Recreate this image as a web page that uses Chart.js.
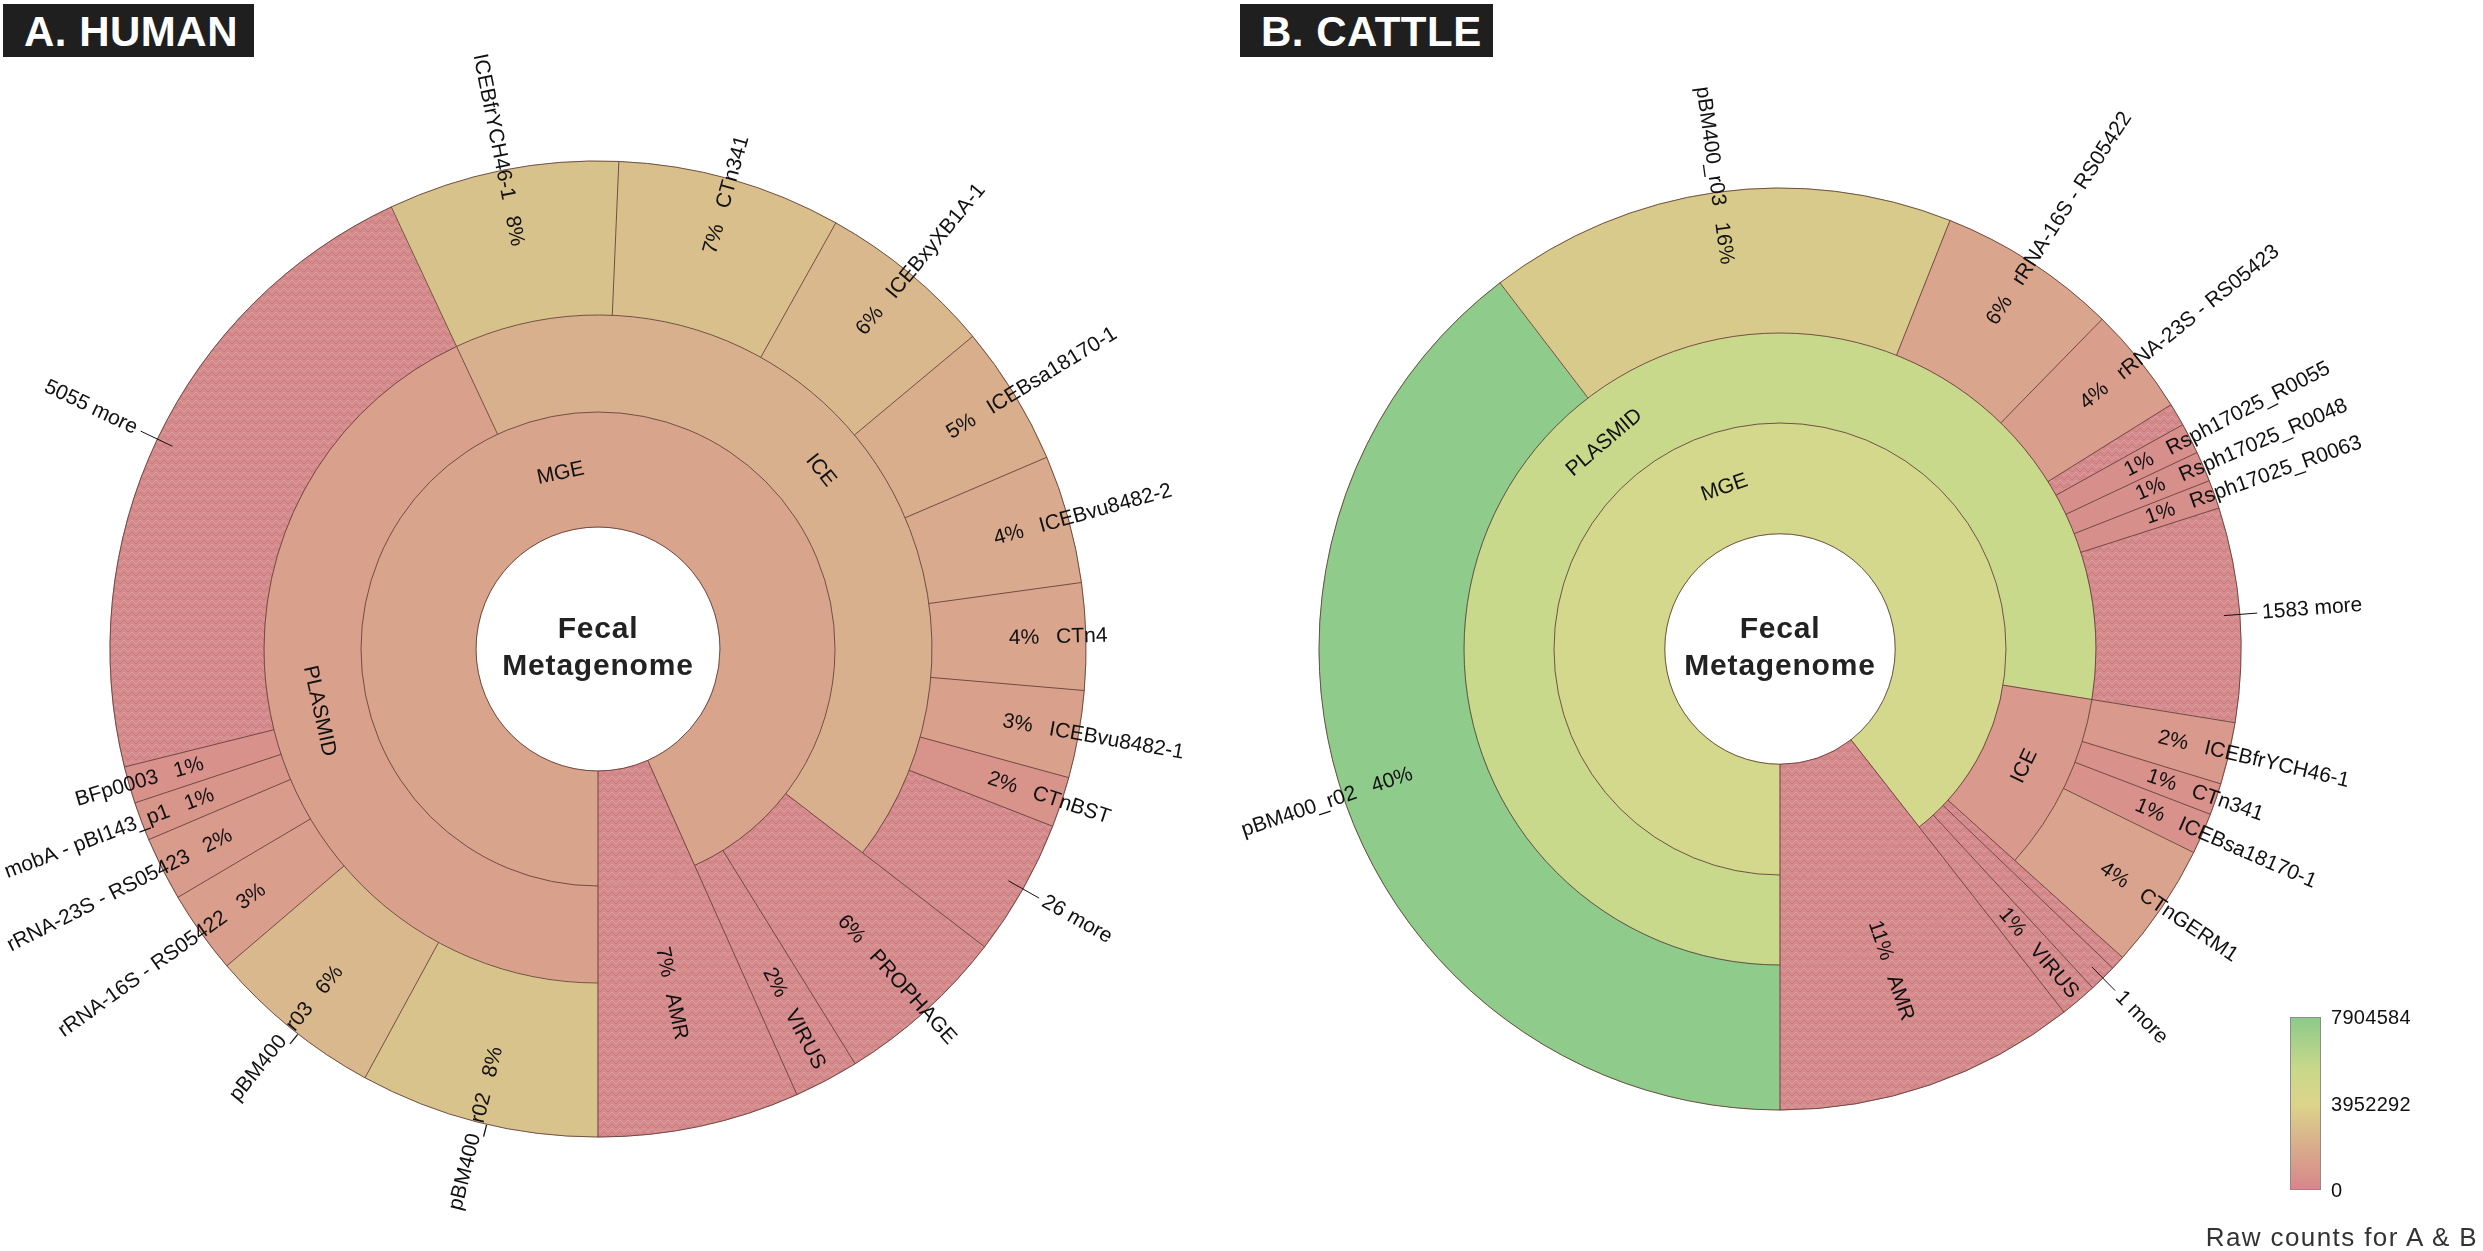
<!DOCTYPE html>
<html>
<head>
<meta charset="utf-8">
<script src="https://cdn.jsdelivr.net/npm/chart.js@4.4.1/dist/chart.umd.min.js"></script>
<style>
    html, body { margin: 0; padding: 0; background: #fff; overflow: hidden; }
    #page { position: relative; width: 2483px; height: 1251px; font-family: "Liberation Sans", Arial, sans-serif; }
    canvas { position: absolute; left: 0; top: 0; }
    .tag { position: absolute; top: 4px; height: 53px; background: #1f1f1f; color: #fff; font-weight: bold; font-size: 42px; letter-spacing: 0.5px; line-height: 55px; padding-left: 21px; box-sizing: border-box; }
    #scale { position: absolute; left: 2290px; top: 1017px; width: 31px; height: 173px; box-sizing: border-box; border: 1px solid #8c8c8c; background: linear-gradient(to bottom, #8dca8a 0%, #c9d88a 30%, #dcd48b 50%, #d9ad8c 75%, #d7868a 100%); }
    .tick { position: absolute; left: 2331px; font-size: 20px; letter-spacing: 0.3px; color: #111; line-height: 20px; }
    #scaleTitle { position: absolute; right: 5px; top: 1222px; font-size: 26px; letter-spacing: 1.4px; line-height: 30px; color: #333; white-space: nowrap; }
</style>
</head>
<body>
<div id="page">
    <canvas id="humanChart" width="2483" height="1251"></canvas>
    <canvas id="cattleChart" width="2483" height="1251"></canvas>
    <div class="tag" style="left:3px; width:251px;">A. HUMAN</div>
    <div class="tag" style="left:1240px; width:253px;">B. CATTLE</div>
    <div id="scale"></div>
    <div id="scaleTitle">Raw counts for A &amp; B</div>
</div>
<script>
// share of all reads in each wedge (%)
const humanPlasmidNames = ['pBM400_r02', 'pBM400_r03', 'rRNA-16S - RS05422', 'rRNA-23S - RS05423', 'mobA - pBI143_p1', 'BFp0003', '5055 more'];
const humanPlasmidValues = [7.92, 5.83, 2.75, 2.11, 1.28, 1.22, 21.92];
const humanIceNames = ['ICEBfrYCH46-1', 'CTn341', 'ICEBxyXB1A-1', 'ICEBsa18170-1', 'ICEBvu8482-2', 'CTn4', 'ICEBvu8482-1', 'CTnBST', '26 more'];
const humanIceValues = [7.64, 7.42, 5.83, 4.64, 4.25, 3.53, 2.89, 1.67, 4.53];
const humanOtherNames = ['PROPHAGE', 'VIRUS'];
const humanOtherValues = [5.72, 2.15];
const humanAmrValue = 6.68;

const cattlePlasmidNames = ['pBM400_r02', 'pBM400_r03', 'rRNA-16S - RS05422', 'rRNA-23S - RS05423', '', 'Rsph17025_R0055', 'Rsph17025_R0048', 'Rsph17025_R0063', '1583 more'];
const cattlePlasmidValues = [39.6, 16.4, 6.3, 3.8, 0.8, 1.08, 1.06, 1.0, 7.5];
const cattleIceNames = ['ICEBfrYCH46-1', 'CTn341', 'ICEBsa18170-1', 'CTnGERM1'];
const cattleIceValues = [2.17, 1.11, 1.44, 4.39];
const cattleOtherNames = ['', '1 more', 'VIRUS'];
const cattleOtherValues = [0.5, 0.97, 1.3];
const cattleAmrValue = 10.56;

const scaleTicks = ['7904584', '3952292', '0'];

// colours
const HATCH = 'hatch';
const humanPlasmidColors = ['#d9c38c', '#d9b88d', '#d99f8c', '#d99b8c', '#d8968b', '#d8928b', HATCH];
const humanIceColors = ['#d8c28c', '#d9bf8c', '#d9b88d', '#d9ae8d', '#d9aa8d', '#d9a68d', '#d9a08c', '#d8938b', HATCH];
const humanOtherColors = [HATCH, HATCH];
const humanGroupColors = { MGE: '#d9a48c', PLASMID: '#d9a18c', ICE: '#d9b08e', AMR: HATCH };

const cattlePlasmidColors = ['#8fcb8a', '#d8ca8b', '#d9a58d', '#d99e8c', HATCH, '#d78f8b', '#d78f8b', '#d78f8b', HATCH];
const cattleIceColors = ['#d9998c', '#d8918b', '#d8928b', '#d9a38d'];
const cattleOtherColors = [HATCH, HATCH, HATCH];
const cattleGroupColors = { MGE: '#d3d88d', PLASMID: '#c9d98c', ICE: '#d9998c', AMR: HATCH };

const EDGE = 'rgba(95, 60, 55, 0.85)';
const HATCH_BASE = '#d58a8c';
const LABEL_FONT = '21px "Liberation Sans", Arial, sans-serif';

function makeHatch() {
    const c = document.createElement('canvas');
    c.width = 8;
    c.height = 8;
    const g = c.getContext('2d');
    g.fillStyle = HATCH_BASE;
    g.fillRect(0, 0, 8, 8);
    g.lineWidth = 1;
    g.strokeStyle = 'rgba(255, 255, 255, 0.16)';
    g.beginPath();
    g.moveTo(0, 4); g.lineTo(4, 0); g.lineTo(8, 4);
    g.stroke();
    g.strokeStyle = 'rgba(150, 70, 75, 0.16)';
    g.beginPath();
    g.moveTo(0, 8); g.lineTo(4, 4); g.lineTo(8, 8);
    g.stroke();
    return g.createPattern(c, 'repeat');
}
const hatchPattern = makeHatch();

function fillOf(color) {
    return color === HATCH ? hatchPattern : color;
}

function leaves(names, values, colors) {
    return names.map((name, i) => ({ name, value: values[i], color: colors[i] }));
}

function group(name, color, children) {
    return { name, color, children, value: children.reduce((s, c) => s + c.value, 0) };
}

// one list of pieces per ring, innermost first; leaves are carried outwards
function ringsOf(roots, depth) {
    const rings = [];
    for (let d = 0; d < depth; d++) rings.push([]);
    function walk(node, d) {
        rings[d].push({ node, first: true, cont: !node.children && d < depth - 1 });
        if (node.children) {
            node.children.forEach(c => walk(c, d + 1));
        } else {
            for (let k = d + 1; k < depth; k++) {
                rings[k].push({ node, first: false, cont: k < depth - 1 });
            }
        }
    }
    roots.forEach(r => walk(r, 0));
    return rings;
}

function normAngle(a) {
    return Math.atan2(Math.sin(a), Math.cos(a));
}

function radialText(ctx, x, y, ang, r0, parts, gap) {
    const a = normAngle(ang);
    const right = a > -Math.PI / 2 - 1e-6 && a <= Math.PI / 2 + 1e-6;
    ctx.save();
    ctx.translate(x, y);
    ctx.rotate(right ? a : a + Math.PI);
    ctx.textAlign = right ? 'left' : 'right';
    let r = r0;
    parts.forEach(t => {
        ctx.fillText(t, right ? r : -r, 0);
        r += ctx.measureText(t).width + gap;
    });
    ctx.restore();
}

function makeKronaPlugin(rings, total) {
    return {
        id: 'krona',
        afterDatasetsDraw(chart) {
            const ctx = chart.ctx;
            const n = rings.length;
            const outerMeta = chart.getDatasetMeta(0).data[0];
            const R = outerMeta.outerRadius;
            const cx = outerMeta.x;
            const cy = outerMeta.y;

            ctx.save();
            ctx.strokeStyle = EDGE;
            ctx.lineWidth = 1;
            rings.forEach((pieces, d) => {
                const meta = chart.getDatasetMeta(n - 1 - d);
                meta.data.forEach((arc, i) => {
                    const p = arc.getProps(['startAngle', 'endAngle', 'innerRadius', 'outerRadius'], true);
                    ctx.beginPath();
                    ctx.moveTo(cx + p.innerRadius * Math.cos(p.startAngle), cy + p.innerRadius * Math.sin(p.startAngle));
                    ctx.lineTo(cx + p.outerRadius * Math.cos(p.startAngle), cy + p.outerRadius * Math.sin(p.startAngle));
                    ctx.stroke();
                    if (!pieces[i].cont) {
                        ctx.beginPath();
                        ctx.arc(cx, cy, p.outerRadius, p.startAngle, p.endAngle);
                        ctx.stroke();
                    }
                    if (d === 0) {
                        ctx.beginPath();
                        ctx.arc(cx, cy, p.innerRadius, p.startAngle, p.endAngle);
                        ctx.stroke();
                    }
                });
            });

            ctx.fillStyle = '#111';
            ctx.font = LABEL_FONT;
            ctx.textBaseline = 'middle';
            rings.forEach((pieces, d) => {
                const meta = chart.getDatasetMeta(n - 1 - d);
                meta.data.forEach((arc, i) => {
                    const piece = pieces[i];
                    if (!piece.first || !piece.node.name) return;
                    const p = arc.getProps(['startAngle', 'endAngle', 'innerRadius', 'outerRadius'], true);
                    const mid = (p.startAngle + p.endAngle) / 2;
                    const node = piece.node;
                    if (node.children) {
                        const r = (p.innerRadius + p.outerRadius) / 2;
                        let t = normAngle(mid + Math.PI / 2);
                        if (t > Math.PI / 2) t -= Math.PI;
                        if (t <= -Math.PI / 2) t += Math.PI;
                        ctx.save();
                        ctx.translate(cx + r * Math.cos(mid), cy + r * Math.sin(mid));
                        ctx.rotate(t);
                        ctx.textAlign = 'center';
                        ctx.fillText(node.name, 0, 0);
                        ctx.restore();
                    } else if (/more$/.test(node.name)) {
                        ctx.save();
                        ctx.strokeStyle = '#111';
                        ctx.beginPath();
                        ctx.moveTo(cx + 0.966 * R * Math.cos(mid), cy + 0.966 * R * Math.sin(mid));
                        ctx.lineTo(cx + 1.038 * R * Math.cos(mid), cy + 1.038 * R * Math.sin(mid));
                        ctx.stroke();
                        ctx.restore();
                        radialText(ctx, cx, cy, mid, 1.038 * R + 5, [node.name], 0);
                    } else {
                        const pct = Math.round(node.value / total * 100) + '%';
                        const r0 = (p.innerRadius + R) / 2;
                        radialText(ctx, cx, cy, mid, r0, [pct, node.name], 17);
                    }
                });
            });

            ctx.fillStyle = '#222';
            ctx.font = 'bold 30px "Liberation Sans", Arial, sans-serif';
            if ('letterSpacing' in ctx) ctx.letterSpacing = '0.8px';
            ctx.textAlign = 'center';
            ctx.textBaseline = 'alphabetic';
            ctx.fillText('Fecal', cx, cy - 11);
            ctx.fillText('Metagenome', cx, cy + 26);
            ctx.restore();
        }
    };
}

function drawKrona(canvasId, roots, weights, radius, padding) {
    const rings = ringsOf(roots, weights.length);
    const total = roots.reduce((s, r) => s + r.value, 0);
    const datasets = rings.map((pieces, d) => ({
        data: pieces.map(p => p.node.value),
        backgroundColor: pieces.map(p => fillOf(p.node.color)),
        borderColor: pieces.map(p => p.node.color === HATCH ? HATCH_BASE : p.node.color),
        borderWidth: 1,
        weight: weights[d]
    })).reverse();

    return new Chart(document.getElementById(canvasId), {
        type: 'doughnut',
        data: { labels: rings[rings.length - 1].map(p => p.node.name), datasets },
        options: {
            responsive: false,
            devicePixelRatio: 1,
            animation: false,
            events: [],
            rotation: 180,
            cutout: '25%',
            radius,
            layout: { padding },
            plugins: { legend: { display: false }, tooltip: { enabled: false } }
        },
        plugins: [makeKronaPlugin(rings, total)]
    });
}

const humanRoots = [
    group('MGE', humanGroupColors.MGE, [
        group('PLASMID', humanGroupColors.PLASMID, leaves(humanPlasmidNames, humanPlasmidValues, humanPlasmidColors)),
        group('ICE', humanGroupColors.ICE, leaves(humanIceNames, humanIceValues, humanIceColors)),
        ...leaves(humanOtherNames, humanOtherValues, humanOtherColors)
    ]),
    ...leaves(['AMR'], [humanAmrValue], [humanGroupColors.AMR])
];

const cattleRoots = [
    group('MGE', cattleGroupColors.MGE, [
        group('PLASMID', cattleGroupColors.PLASMID, leaves(cattlePlasmidNames, cattlePlasmidValues, cattlePlasmidColors)),
        group('ICE', cattleGroupColors.ICE, leaves(cattleIceNames, cattleIceValues, cattleIceColors)),
        ...leaves(cattleOtherNames, cattleOtherValues, cattleOtherColors)
    ]),
    ...leaves(['AMR'], [cattleAmrValue], [cattleGroupColors.AMR])
];

drawKrona('humanChart', humanRoots, [115, 97, 154], 488, { left: 0, right: 1287, top: 47, bottom: 0 });
drawKrona('cattleChart', cattleRoots, [110.75, 90, 145], 461, { left: 1077, right: 0, top: 47, bottom: 0 });

const page = document.getElementById('page');
const tickTops = [1017, 1103.5, 1190];
scaleTicks.forEach((t, i) => {
    const el = document.createElement('div');
    el.className = 'tick';
    el.style.top = (tickTops[i] - 10) + 'px';
    el.textContent = t;
    page.appendChild(el);
});
</script>
</body>
</html>
